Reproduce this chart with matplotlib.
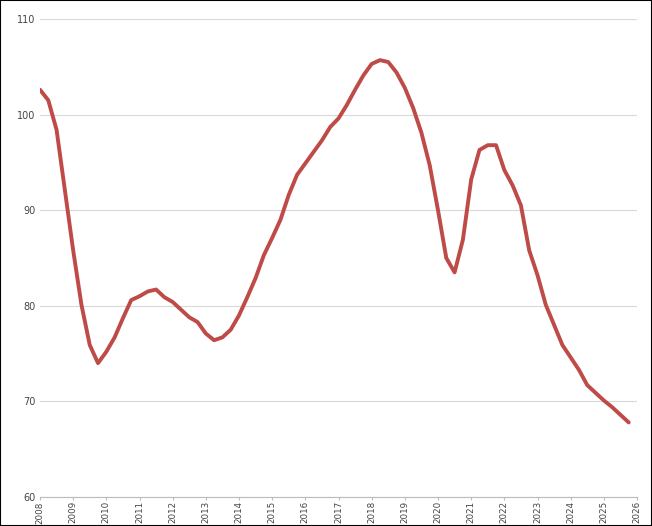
import matplotlib
matplotlib.use("Agg")
import matplotlib.pyplot as plt
import numpy as np

start_year = 2008.0
step = 0.25
values = [102.6,101.5,98.4,92.1,85.8,80.1,75.9,74.0,75.2,76.7,78.7,80.6,81.0,81.5,81.7,80.9,
          80.4,79.6,78.8,78.3,77.1,76.4,76.7,77.5,79.0,80.9,82.9,85.3,87.1,89.0,91.6,93.7,
          94.9,96.1,97.3,98.7,99.6,101.0,102.6,104.1,105.3,105.7,105.5,104.4,102.8,100.7,98.1,94.7,
          90.0,85.0,83.5,86.9,93.2,96.3,96.8,96.8,94.2,92.6,90.5,85.8,83.2,80.1,78.0,75.9,
          74.6,73.3,71.7,70.9,70.1,69.4,68.6,67.8]
years = [str(y) for y in range(2008, 2027)]

x = start_year + step*np.arange(len(values))

fig = plt.figure(figsize=(6.52,5.26), dpi=100)
ax = fig.add_axes([40/652, 1-497/526, 597/652, 478/526])
ax.plot(x, values, color='#be4b48', lw=2.8, solid_capstyle='round', solid_joinstyle='round')
ax.set_xlim(2008, 2026)
ax.set_ylim(60, 110)
ax.set_xticks(range(2008, 2027))
ax.set_xticklabels(years, rotation=90, fontsize=6.3, color='#444444')
ax.set_yticks(range(60, 111, 10))
ax.tick_params(axis='y', labelsize=7, colors='#444444', length=0)
ax.tick_params(axis='x', length=2, pad=1, color='#bbbbbb')
ax.grid(axis='y', color='#d9d9d9', lw=0.8)
for s in ['top','right','left']:
    ax.spines[s].set_visible(False)
ax.spines['bottom'].set_color('#bbbbbb')
fig.patches.append(plt.Rectangle((0,0),1,1,transform=fig.transFigure,fill=False,edgecolor='black',lw=1.5))
fig.savefig('out.png', dpi=100)
